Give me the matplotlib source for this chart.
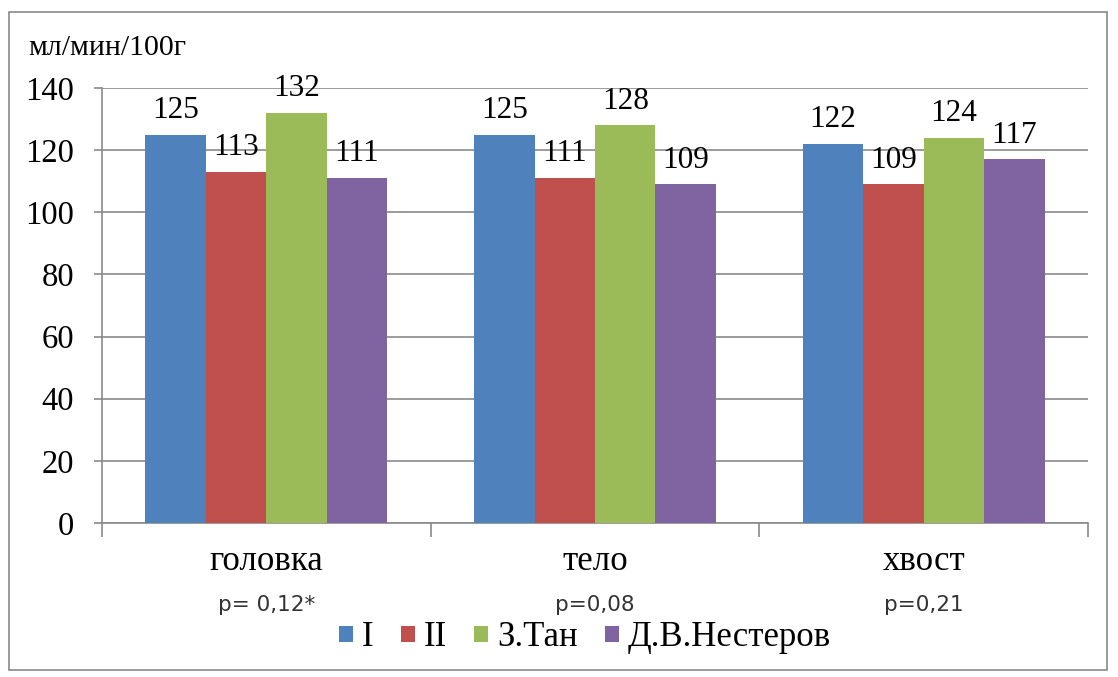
import matplotlib.pyplot as plt
import matplotlib.patches as mpatches
import numpy as np

# data
categories = ['головка', 'тело', 'хвост']
p_values = ['p= 0,12*', 'p=0,08', 'p=0,21']
series = ['I', 'II', 'З.Тан', 'Д.В.Нестеров']
vals_I = [125, 125, 122]
vals_II = [113, 111, 109]
vals_tan = [132, 128, 124]
vals_nest = [111, 109, 117]
colors = ['#4F81BD', '#C0504D', '#9BBB59', '#8064A2']

serif = 'Liberation Serif'

fig = plt.figure(figsize=(11.18, 6.77), dpi=100)
ax = fig.add_axes([102 / 1118, 1 - 523 / 677, (1088 - 102) / 1118, (523 - 88) / 677])

x = np.arange(len(categories))
w = 0.184
all_vals = [vals_I, vals_II, vals_tan, vals_nest]
for i, (vals, c, name) in enumerate(zip(all_vals, colors, series)):
    pos = x + (i - 1.5) * w
    ax.bar(pos, vals, width=w, color=c, label=name, zorder=3)
    for xp, v in zip(pos, vals):
        ax.annotate(str(v), (xp, v), xytext=(0, 12), textcoords='offset points',
                    ha='center', va='baseline', fontsize=22.5, family=serif, zorder=4)

ax.set_ylim(0, 140)
ax.set_xlim(-0.5, 2.5)
ax.set_yticks(range(0, 141, 20))
ax.yaxis.grid(True, color='#8a8a8a', linewidth=1.2, zorder=0)
ax.tick_params(axis='y', length=6, width=1.2, color='#8a8a8a', pad=14)
for lab in ax.get_yticklabels():
    lab.set_family(serif)
    lab.set_fontsize(23.5)

ax.set_xticks(x)
ax.set_xticklabels(categories, family=serif, fontsize=25)
ax.set_xticks([-0.5, 0.5, 1.5, 2.5], minor=True)
ax.tick_params(axis='x', which='major', length=0, pad=16)
ax.tick_params(axis='x', which='minor', length=10, width=1.2, color='#8a8a8a')

for s in ['top', 'right']:
    ax.spines[s].set_visible(False)
for s in ['left', 'bottom']:
    ax.spines[s].set_color('#8a8a8a')
    ax.spines[s].set_linewidth(1.2)

for xp, pv in zip(x, p_values):
    ax.text(xp, -0.188, pv, transform=ax.get_xaxis_transform(), ha='center', va='center',
            fontsize=15.5, family='DejaVu Sans', color='#333333')

fig.text(28 / 1118, 1 - 48 / 677, 'мл/мин/100г', family=serif, fontsize=21.5, va='center', ha='left')

fig.legend(loc='center', bbox_to_anchor=(585 / 1118, 1 - 638 / 677), ncol=4, frameon=False,
           prop={'family': serif, 'size': 25}, handlelength=0.4, handleheight=0.3,
           handletextpad=0.25, columnspacing=0.8)

fig.patches.append(mpatches.Rectangle((9 / 1118, 1 - 670 / 677), (1107 - 9) / 1118, (670 - 12) / 677,
                                      transform=fig.transFigure, fill=False, edgecolor='#8a8a8a',
                                      linewidth=1.2))

fig.savefig('out.png', dpi=100)
